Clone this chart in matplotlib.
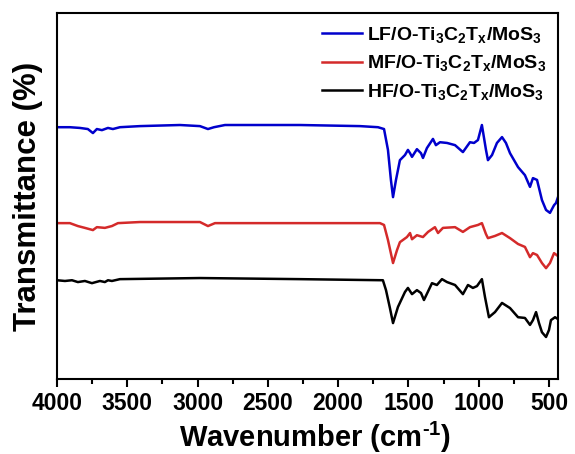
import matplotlib
matplotlib.use("Agg")
import matplotlib.pyplot as plt
from matplotlib.ticker import MultipleLocator

plt.rcParams["font.family"] = ["Liberation Sans", "DejaVu Sans"]
plt.rcParams["font.weight"] = "bold"
plt.rcParams["mathtext.fontset"] = "custom"
plt.rcParams["mathtext.rm"] = "Liberation Sans:bold"
plt.rcParams["mathtext.it"] = "Liberation Sans:bold"
plt.rcParams["mathtext.bf"] = "Liberation Sans:bold"
plt.rcParams["mathtext.default"] = "rm"

# FTIR spectra (wavenumber in cm-1, transmittance in arbitrary %)
lf_wn = [4000, 3908, 3836, 3780, 3744, 3716, 3680, 3637, 3602, 3552, 3410, 3125, 2983, 2926,
         2883, 2805, 2272, 1845, 1717, 1674, 1646, 1625, 1610, 1589, 1561, 1525, 1504, 1489,
         1475, 1440, 1411, 1397, 1369, 1326, 1305, 1276, 1226, 1169, 1113, 1063, 1034, 1006,
         978, 949, 935, 906, 871, 835, 807, 778, 721, 672, 636, 615, 586, 551, 522, 494, 465,
         451, 437]
lf_t = [68.8, 68.8, 68.6, 68.3, 67.2, 68.3, 68.0, 68.6, 68.3, 68.8, 69.1, 69.4, 69.1, 68.3,
        68.8, 69.4, 69.4, 69.1, 68.8, 68.3, 62.6, 54.4, 49.7, 54.4, 59.8, 61.2, 62.6, 61.7,
        60.7, 62.8, 61.7, 60.4, 63.1, 65.6, 63.9, 64.7, 64.5, 63.9, 62.0, 64.7, 64.5, 65.3,
        69.4, 62.6, 59.8, 61.2, 64.5, 66.1, 64.5, 61.7, 57.9, 55.7, 52.5, 54.9, 54.4, 48.9,
        46.2, 45.4, 47.5, 48.1, 49.7]

mf_wn = [4000, 3908, 3851, 3801, 3744, 3716, 3659, 3609, 3566, 3410, 2983, 2926, 2876, 2272,
         1845, 1703, 1674, 1646, 1610, 1582, 1561, 1511, 1489, 1475, 1440, 1397, 1361, 1312,
         1290, 1255, 1169, 1113, 1063, 1006, 978, 949, 935, 885, 835, 778, 721, 672, 636, 615,
         586, 551, 522, 494, 465, 437]
mf_t = [42.6, 42.6, 41.8, 41.3, 40.7, 41.5, 41.3, 41.8, 42.6, 42.9, 42.9, 41.8, 42.6, 42.6,
        42.6, 42.6, 42.1, 38.0, 31.7, 35.2, 37.4, 38.8, 39.9, 38.2, 39.3, 38.8, 40.2, 41.5,
        39.9, 41.3, 41.5, 40.2, 41.5, 42.1, 42.6, 39.6, 38.5, 39.1, 39.9, 38.5, 36.9, 36.1,
        33.3, 34.4, 33.9, 31.7, 30.3, 31.7, 34.4, 33.6]

hf_wn = [4000, 3943, 3893, 3851, 3801, 3751, 3723, 3694, 3659, 3637, 3609, 3552, 2983, 2272,
         1682, 1660, 1632, 1610, 1575, 1525, 1504, 1475, 1440, 1411, 1390, 1333, 1298, 1262,
         1226, 1169, 1113, 1077, 1042, 1013, 978, 956, 928, 885, 835, 778, 721, 672, 636, 615,
         593, 572, 551, 522, 501, 487, 458, 437]
hf_t = [27.0, 26.8, 27.0, 26.5, 26.8, 26.2, 26.5, 26.8, 26.5, 27.0, 26.8, 27.3, 27.6, 27.3,
        27.0, 24.3, 19.4, 15.3, 19.7, 23.8, 24.9, 23.2, 24.3, 23.5, 21.6, 26.2, 25.7, 27.3,
        26.5, 25.7, 23.2, 25.7, 24.9, 25.4, 27.3, 22.4, 16.9, 18.3, 20.8, 19.4, 16.9, 16.7,
        14.8, 16.1, 18.3, 15.3, 12.8, 11.5, 13.4, 16.1, 16.9, 16.4]

labels = ["LF/O-Ti$_3$C$_2$T$_x$/MoS$_3$",
          "MF/O-Ti$_3$C$_2$T$_x$/MoS$_3$",
          "HF/O-Ti$_3$C$_2$T$_x$/MoS$_3$"]
colors = ["#0000CC", "#D42A2A", "#000000"]

fig = plt.figure(figsize=(5.75, 4.54), dpi=100)
ax = fig.add_axes([0.099, 0.165, 0.8714, 0.8064])

for wn, t, lab, c in zip([lf_wn, mf_wn, hf_wn], [lf_t, mf_t, hf_t], labels, colors):
    ax.plot(wn, t, color=c, lw=1.8, label=lab)

ax.set_xlim(4000, 437)
ax.set_ylim(0, 100)
ax.set_yticks([])
ax.xaxis.set_major_locator(MultipleLocator(500))
ax.xaxis.set_minor_locator(MultipleLocator(250))
ax.tick_params(axis="x", which="major", direction="out", length=6, width=1.5,
               labelsize=16.5, pad=3)
ax.tick_params(axis="x", which="minor", direction="out", length=3.5, width=1.5)
for sp in ax.spines.values():
    sp.set_linewidth(1.5)

ax.set_xlabel(r"Wavenumber (cm$^{\text{-}1}$)", fontsize=21, fontweight="bold", labelpad=4)
ax.xaxis.label.set_x(0.515)
ax.set_ylabel("Transmittance (%)", fontsize=22.5, fontweight="bold", labelpad=10)

ax.legend(loc="upper right", frameon=False, fontsize=14, handlelength=2.05,
          handletextpad=0.25, labelspacing=0.45, borderaxespad=0.2)

fig.savefig("out.png", dpi=100)
